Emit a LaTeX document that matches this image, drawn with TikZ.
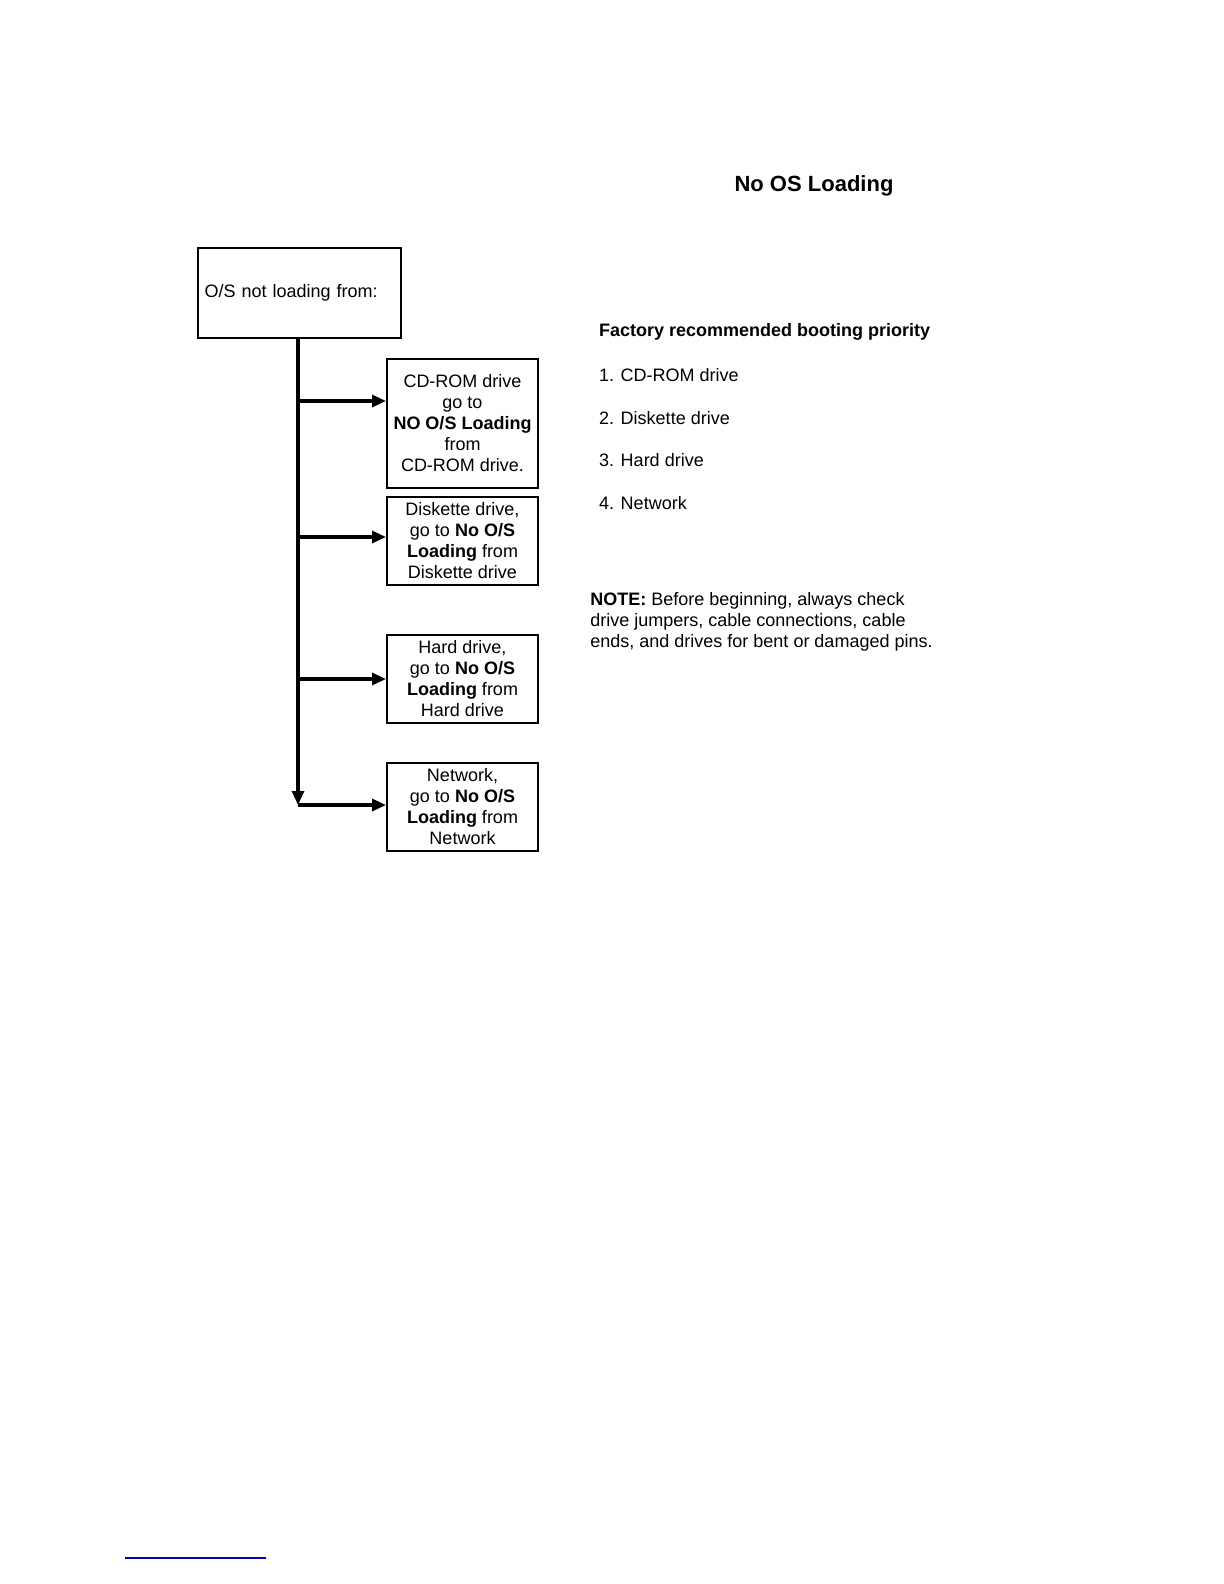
\documentclass[tikz,border=0pt]{standalone}
\usepackage{fontspec}
\setmainfont{Liberation Sans}
\usetikzlibrary{positioning,arrows.meta}
\begin{document}
\begin{tikzpicture}[x=0.5pt,y=-0.5pt,font=\fontsize{9}{10.5}\selectfont]
 \useasboundingbox (0,0) rectangle (1224,1584);
 \tikzstyle{box} = [draw,line width=1pt,inner sep=0pt,align=center]
 \tikzstyle{link} = [line width=1.6pt,-{Triangle[length=7pt,width=6pt]}]
 \node[font=\bfseries\fontsize{11}{13}\selectfont] (title) at (814,186) {No OS Loading};
 \node[box,minimum width=101.5pt,minimum height=45pt,text width=95pt,align=left] (start) at (299.5,293) {O/S not loading from:};
 \node[box,minimum width=75.5pt,minimum height=64.5pt] (cd) at (462.5,423.5)
  {CD-ROM drive\\go to\\\textbf{NO O/S Loading}\\from\\CD-ROM drive.};
 \node[box,minimum width=75.5pt,minimum height=44pt] (disk) at (462.5,541)
  {Diskette drive,\\go to \textbf{No O/S}\\\textbf{Loading} from\\Diskette drive};
 \node[box,minimum width=75.5pt,minimum height=44pt] (hard) at (462.5,679)
  {Hard drive,\\go to \textbf{No O/S}\\\textbf{Loading} from\\Hard drive};
 \node[box,minimum width=75.5pt,minimum height=44pt] (net) at (462.5,807)
  {Network,\\go to \textbf{No O/S}\\\textbf{Loading} from\\Network};
 \coordinate (j1) at (298,401);
 \coordinate (j2) at (298,537);
 \coordinate (j3) at (298,679);
 \coordinate (j4) at (298,805);
 \draw[link] (start.south -| j1) -- (j4);
 \draw[link] (j1) -- (j1 -| cd.west);
 \draw[link] (j2) -- (j2 -| disk.west);
 \draw[link] (j3) -- (j3 -| hard.west);
 \draw[link] (j4) -- (j4 -| net.west);
 \node[anchor=west,font=\bfseries\fontsize{9}{10.5}\selectfont] (prio) at (592,332) {Factory recommended booting priority};
 \node[anchor=west] (p1) at (592,375) {1. CD-ROM drive};
 \node[anchor=west] (p2) at (592,418) {2. Diskette drive};
 \node[anchor=west] (p3) at (592,460) {3. Hard drive};
 \node[anchor=west] (p4) at (592,503) {4. Network};
 \node[anchor=north west,align=left,inner sep=0pt] (note) at (590,592)
  {\textbf{NOTE:} Before beginning, always check\\drive jumpers, cable connections, cable\\ends, and drives for bent or damaged pins.};
 \draw[blue!70!black,line width=0.6pt] (125,1558) -- (266,1558);
\end{tikzpicture}
\end{document}
